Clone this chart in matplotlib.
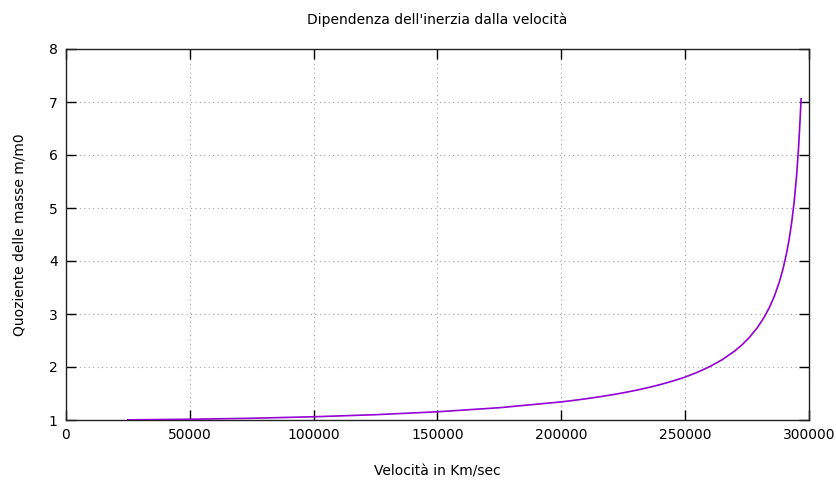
import numpy as np
import matplotlib.pyplot as plt

# velocity (km/s) and mass ratio m/m0
velocita = [25000, 50000, 75000, 100000, 125000, 150000, 175000, 200000,
            205000, 210000, 215000, 220000, 225000, 230000, 235000, 240000,
            245000, 250000, 255000, 260000, 265000, 270000, 273000, 276000,
            279000, 282000, 284000, 286000, 288000, 289500, 291000, 292000,
            293000, 294000, 295000, 295800, 296400, 296800]
quoziente = [1.003, 1.014, 1.033, 1.061, 1.10, 1.155, 1.232, 1.342,
             1.370, 1.401, 1.435, 1.472, 1.513, 1.559, 1.611, 1.669,
             1.735, 1.81, 1.902, 2.009, 2.139, 2.301, 2.420, 2.562,
             2.733, 2.946, 3.122, 3.335, 3.601, 3.849, 4.159, 4.415,
             4.724, 5.11, 5.615, 6.15, 6.667, 7.06]

xticks = [0, 50000, 100000, 150000, 200000, 250000, 300000]
yticks = [1, 2, 3, 4, 5, 6, 7, 8]

plt.rcParams['font.family'] = 'DejaVu Sans'
fig = plt.figure(figsize=(8.37, 4.84), dpi=100)
ax = fig.add_axes([66/837, 1-420/484, 743/837, 371/484])

ax.plot(velocita, quoziente, color='#9400d3', linewidth=1.2, zorder=3)

ax.set_xlim(0, 300000)
ax.set_ylim(1, 8)
ax.set_xticks(xticks)
ax.set_yticks(yticks)
ax.tick_params(direction='in', length=7, width=1, top=True, right=True,
               labelsize=10, colors='black', pad=6)
ax.grid(True, color='#a0a0a0', linestyle=(0, (1, 3)), linewidth=0.8)
for s in ax.spines.values():
    s.set_linewidth(1)
    s.set_color('#222222')

ax.set_title("Dipendenza dell'inerzia dalla velocità", fontsize=10, pad=18)
ax.set_xlabel('Velocità in Km/sec', fontsize=10, labelpad=16)
ax.set_ylabel('Quoziente delle masse m/m0', fontsize=10, labelpad=16)

plt.savefig('out.png', dpi=100)
